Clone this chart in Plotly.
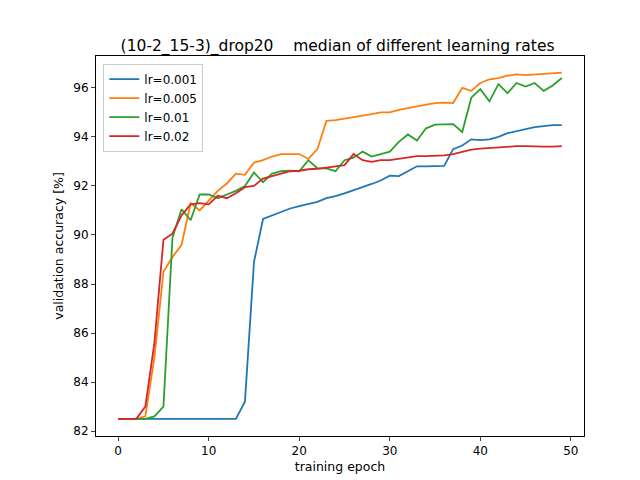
import plotly.graph_objects as go

epochs = list(range(50))

acc_lr0001 = [82.5] * 14 + [83.2, 88.9, 90.65, 90.8, 90.95, 91.08, 91.18, 91.25, 91.35, 91.5,
                            91.58, 91.7, 91.82, 91.93, 92.08, 92.22, 92.42, 92.4, 92.6, 92.8,
                            92.8, 92.82, 92.82, 93.5, 93.65, 93.9, 93.87, 93.9, 94.0, 94.15,
                            94.25, 94.32, 94.4, 94.45, 94.48, 94.48]
acc_lr0005 = [82.5, 82.5, 82.5, 82.6, 85.0, 88.5, 89.1, 89.6, 91.3, 91.0,
              91.4, 91.8, 92.1, 92.5, 92.45, 92.95, 93.05, 93.2, 93.3, 93.3,
              93.3, 93.1, 93.5, 94.65, 94.68, 94.75, 94.8, 94.88, 94.93, 95.0,
              95.0, 95.1, 95.18, 95.25, 95.32, 95.38, 95.4, 95.38, 96.0, 95.88,
              96.2, 96.35, 96.4, 96.5, 96.55, 96.52, 96.55, 96.56, 96.6, 96.62]
acc_lr001 = [82.5, 82.5, 82.5, 82.5, 82.6, 83.0, 89.9, 91.05, 90.6, 91.65,
             91.65, 91.5, 91.65, 91.8, 92.0, 92.55, 92.15, 92.5, 92.6, 92.62,
             92.6, 93.05, 92.72, 92.72, 92.6, 93.05, 93.15, 93.4, 93.2, 93.3,
             93.4, 93.8, 94.1, 93.85, 94.35, 94.5, 94.5, 94.52, 94.2, 95.6,
             95.95, 95.45, 96.15, 95.78, 96.2, 96.05, 96.2, 95.88, 96.1, 96.4]
acc_lr002 = [82.5, 82.5, 82.5, 83.0, 85.6, 89.8, 90.05, 90.8, 91.25, 91.3,
             91.25, 91.6, 91.5, 91.7, 91.95, 92.0, 92.3, 92.4, 92.5, 92.6,
             92.62, 92.68, 92.7, 92.75, 92.8, 92.85, 93.3, 93.05, 92.98, 93.05,
             93.05, 93.1, 93.18, 93.22, 93.22, 93.22, 93.25, 93.3, 93.4, 93.48,
             93.52, 93.55, 93.58, 93.6, 93.62, 93.62, 93.6, 93.6, 93.6, 93.62]

series = [("lr=0.001", acc_lr0001, "#1f77b4"),
          ("lr=0.005", acc_lr0005, "#ff7f0e"),
          ("lr=0.01", acc_lr001, "#2ca02c"),
          ("lr=0.02", acc_lr002, "#d62728")]

fig = go.Figure()
for name, ys, color in series:
    fig.add_trace(go.Scatter(x=epochs, y=ys, mode="lines", name=name,
                             line=dict(color=color, width=1.8)))

axis_style = dict(showline=True, linecolor="black", linewidth=1, mirror=True,
                  ticks="outside", ticklen=4, showgrid=False, zeroline=False,
                  automargin=False, tickfont=dict(size=12, color="black"),
                  title_font=dict(size=12.5))
fig.update_xaxes(title_text="training epoch", title_standoff=4, range=[-2.45, 51.45],
                 tickvals=[0, 10, 20, 30, 40, 50], **axis_style)
fig.update_yaxes(title_text="validation accuracy [%]", title_standoff=6, range=[81.8, 97.3],
                 tickvals=[82, 84, 86, 88, 90, 92, 94, 96], **axis_style)

fig.update_layout(
    width=640, height=480,
    margin=dict(l=88, r=64, t=48, b=52),
    paper_bgcolor="white", plot_bgcolor="white",
    font=dict(family="DejaVu Sans", size=12, color="black"),
    title=dict(text="(10-2_15-3)_drop20    median of different learning rates",
               x=0.515, xanchor="center", y=0.91, yanchor="bottom",
               font=dict(size=15.5), automargin=False),
    legend=dict(x=0.015, y=0.98, xanchor="left", yanchor="top",
                bordercolor="#cccccc", borderwidth=1, bgcolor="white",
                font=dict(size=12)),
)

fig.write_html("out.html")
